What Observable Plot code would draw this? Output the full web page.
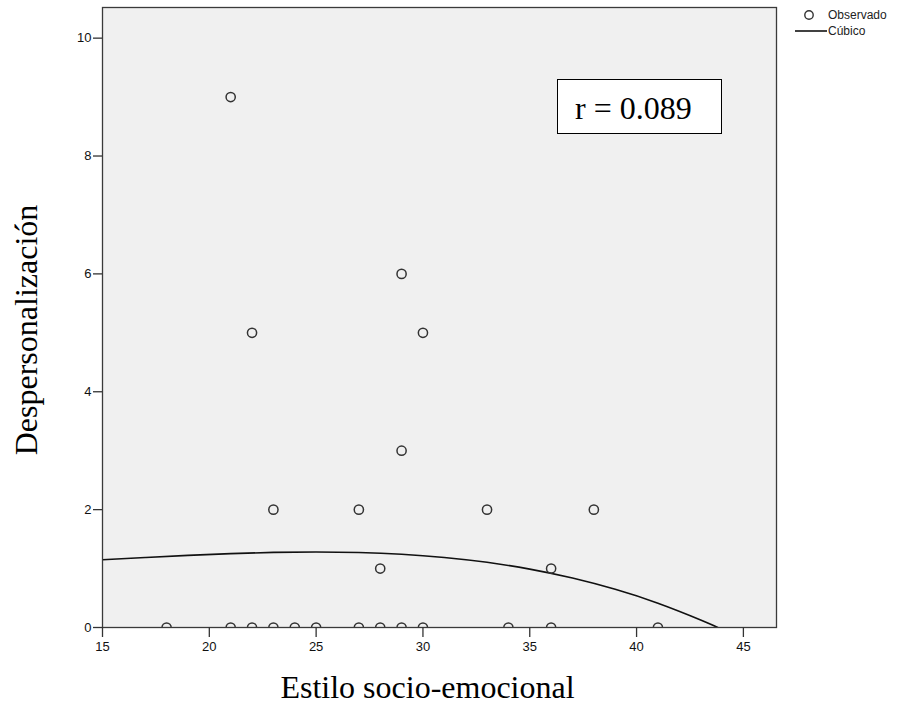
<!DOCTYPE html>
<html>
<head>
<meta charset="utf-8">
<script src="https://cdn.jsdelivr.net/npm/d3@7"></script>
<script src="https://cdn.jsdelivr.net/npm/@observablehq/plot@0.6"></script>
<style>
  html, body { margin: 0; padding: 0; background: #ffffff; }
  #chart svg { display: block; }
</style>
</head>
<body>
<div id="chart"></div>
<script>
// Tick labels
const xTicks = [15, 20, 25, 30, 35, 40, 45];
const yTicks = [0, 2, 4, 6, 8, 10];

// Observed points
const obsX = [21, 22, 29, 30, 29, 23, 27, 33, 38, 28, 36, 18, 21, 22, 23, 24, 25, 27, 28, 29, 30, 34, 36, 41];
const obsY = [9, 5, 6, 5, 3, 2, 2, 2, 2, 1, 1, 0, 0, 0, 0, 0, 0, 0, 0, 0, 0, 0, 0, 0];

// Cubic fit line
const fitX = [15, 17, 19, 21, 23, 25, 27, 29, 31, 33, 35, 37, 39, 41, 43, 43.8];
const fitY = [1.15, 1.187, 1.223, 1.253, 1.274, 1.282, 1.273, 1.244, 1.189, 1.106, 0.991, 0.839, 0.648, 0.412, 0.128, 0.0];

// Texts
const xTitle = "Estilo socio-emocional";
const yTitle = "Despersonalización";
const rLabel = "r = 0.089";
const legendLabels = ["Observado", "Cúbico"];

const observed = obsX.map((x, i) => ({x, y: obsY[i]}));
const fit = fitX.map((x, i) => ({x, y: fitY[i]}));

const serif = "'Liberation Serif', 'Times New Roman', serif";
const sans = "'Liberation Sans', Arial, sans-serif";

const M = {left: 102, right: 138, top: 7, bottom: 83};
const W = 914, H = 710;

const chart = Plot.plot({
  width: W,
  height: H,
  marginLeft: M.left,
  marginRight: M.right,
  marginTop: M.top,
  marginBottom: M.bottom,
  style: {fontFamily: sans, fontSize: "13px", color: "#111", background: "#ffffff"},
  x: {domain: [15, 46.55], label: null},
  y: {domain: [0, 10.52], label: null},
  marks: [
    Plot.frame({fill: "#f0f0f0", stroke: "none"}),
    Plot.line(fit, {x: "x", y: "y", curve: "natural", stroke: "#111", strokeWidth: 1.6}),
    Plot.dot(observed, {x: "x", y: "y", r: 4.6, stroke: "#333", strokeWidth: 1.5, fill: "none"}),
    Plot.frame({stroke: "#3a3a3a", strokeWidth: 1.3}),
    Plot.axisX({ticks: xTicks, tickSize: 10, tickPadding: 4, stroke: "#333", strokeWidth: 1.3, label: null, fontSize: 13}),
    Plot.axisY({ticks: yTicks, tickSize: 9, tickPadding: 2, stroke: "#333", strokeWidth: 1.3, label: null, fontSize: 13}),
    Plot.text([xTitle], {frameAnchor: "bottom", dy: 60, dx: -12, fontFamily: serif, fontSize: 32, fill: "#000", lineAnchor: "middle"})
  ]
});

const svg = d3.select(chart);

// clip the data marks (dots and fit line) to the plot frame
const clipId = "plot-frame-clip";
svg.insert("defs", ":first-child").append("clipPath").attr("id", clipId)
  .append("rect")
  .attr("x", M.left).attr("y", M.top)
  .attr("width", W - M.left - M.right).attr("height", H - M.top - M.bottom);
const parents = new Set();
svg.selectAll("circle").each(function() { parents.add(this.parentNode); });
svg.selectAll("path").each(function() {
  const p = this.parentNode;
  if (p.getAttribute("stroke-width") === "1.6" || this.getAttribute("stroke-width") === "1.6") parents.add(p);
});
parents.forEach(p => p.setAttribute("clip-path", `url(#${clipId})`));

// y title
svg.append("text")
  .attr("transform", "translate(37,330) rotate(-90)")
  .attr("text-anchor", "middle")
  .attr("font-family", serif).attr("font-size", 32).attr("fill", "#000")
  .text(yTitle);

// r annotation box
svg.append("rect")
  .attr("x", 557.5).attr("y", 79.5).attr("width", 164).attr("height", 54)
  .attr("fill", "#ffffff").attr("stroke", "#000").attr("stroke-width", 1);
svg.append("text")
  .attr("x", 575).attr("y", 119)
  .attr("text-anchor", "start")
  .attr("font-family", serif).attr("font-size", 32).attr("fill", "#000")
  .text(rLabel);

// legend
const lg = svg.append("g").attr("font-family", sans).attr("font-size", 12).attr("fill", "#222").attr("text-anchor", "start");
lg.append("circle").attr("cx", 809).attr("cy", 15).attr("r", 4.2)
  .attr("fill", "none").attr("stroke", "#333").attr("stroke-width", 1.4);
lg.append("text").attr("x", 828).attr("y", 15).attr("dy", "0.35em").text(legendLabels[0]);
lg.append("line").attr("x1", 795).attr("x2", 827).attr("y1", 31).attr("y2", 31)
  .attr("stroke", "#111").attr("stroke-width", 1.6);
lg.append("text").attr("x", 828).attr("y", 31).attr("dy", "0.35em").text(legendLabels[1]);

document.getElementById("chart").appendChild(chart);
</script>
</body>
</html>
